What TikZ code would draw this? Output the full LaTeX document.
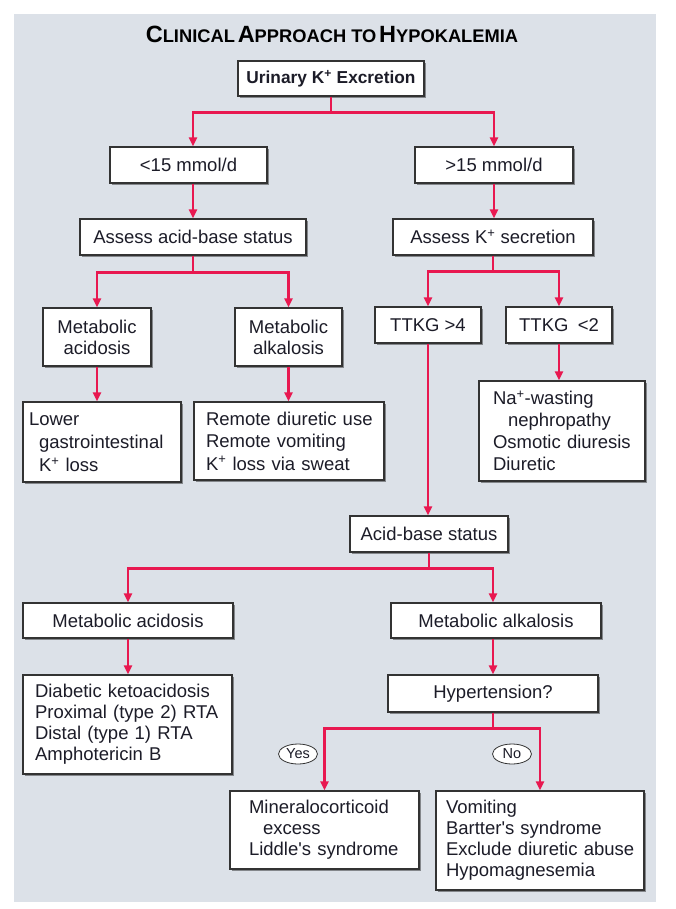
\documentclass[tikz,border=0pt]{standalone}
\usepackage{fontspec}
\setmainfont{Liberation Sans}
\newfontfamily\plainsans{Liberation Sans}
\usetikzlibrary{arrows.meta,shadows,shapes.geometric}
\definecolor{bgc}{RGB}{220,225,232}
\definecolor{arrc}{RGB}{232,24,80}
\definecolor{txt}{RGB}{28,28,40}
\newcommand\BigC[1]{{\fontsize{23.5}{25}\selectfont #1}}
\newcommand\SmC[1]{{\fontsize{18.3}{25}\selectfont #1}}
\newcommand\lline[1]{\mbox{#1}}
\newcommand\Kp{K\textsuperscript{+}}
\newcommand\apos{{\plainsans'}}
\begin{document}
\begin{tikzpicture}[x=1pt,y=-1pt,
  box/.style={draw=black!80, line width=1.1pt, fill=white, inner sep=0pt,
    drop shadow={shadow xshift=2.2pt, shadow yshift=-2.2pt, fill=black, opacity=0.4},
    font=\fontsize{18.5}{21}\selectfont, text=txt, align=center},
  lbox/.style={box, align=left},
  arr/.style={draw=arrc, line width=2.3pt, -{Triangle[length=9pt,width=8pt]}},
  tag/.style={ellipse, draw=black!80, line width=0.8pt, fill=white, inner sep=0pt,
    minimum width=39pt, minimum height=20pt, font=\fontsize{14.5}{14}\selectfont, text=txt}]
\useasboundingbox (0,0) rectangle (675,909);
\fill[bgc] (14,14) rectangle (656,902);

\node[anchor=base, font=\bfseries, text=black] (title) at (332,43)
  {\BigC{C}\SmC{LINICAL} \BigC{A}\SmC{PPROACH TO} \BigC{H}\SmC{YPOKALEMIA}};

\node[box, minimum width=186pt, minimum height=35pt, font=\bfseries\fontsize{17.3}{20}\selectfont] (urin) at (331,78.5) {Urinary \Kp{} Excretion};
\node[box, minimum width=157pt, minimum height=36pt] (lt) at (188.5,165) {<15 mmol/d};
\node[box, minimum width=158pt, minimum height=36pt] (gt) at (494,165) {>15 mmol/d};
\node[box, minimum width=226pt, minimum height=36pt] (aab) at (193,237) {Assess acid-base status};
\node[box, minimum width=200pt, minimum height=36pt] (ak) at (493,237) {Assess \Kp{} secretion};
\node[box, minimum width=108pt, minimum height=58pt] (ma) at (97,337) {Metabolic\\acidosis};
\node[box, minimum width=107pt, minimum height=58pt] (mal) at (288.5,337) {Metabolic\\alkalosis};
\node[box, minimum width=106pt, minimum height=36pt] (t4) at (428,325) {TTKG >4};
\node[box, minimum width=106pt, minimum height=36pt] (t2) at (559,325) {TTKG\enspace<2};

\node[lbox, minimum width=158pt, minimum height=80pt, text width=146pt, inner xsep=6pt,
  font=\fontsize{18.5}{23}\selectfont] (lower) at (102,442)
  {\lline{Lower}\\\lline{\hspace*{10pt}gastrointestinal}\\\lline{\hspace*{10pt}\Kp{} loss}};
\node[lbox, minimum width=190pt, minimum height=78pt, text width=166pt, inner xsep=12pt,
  font=\fontsize{18.5}{22.5}\selectfont] (remote) at (289,441)
  {\lline{Remote diuretic use}\\\lline{Remote vomiting}\\\lline{\Kp{}\ loss via sweat}};
\node[lbox, minimum width=166pt, minimum height=100pt, text width=138pt, inner xsep=14pt,
  font=\fontsize{18.5}{22}\selectfont] (na) at (562,431)
  {\lline{Na\textsuperscript{+}-wasting}\\\lline{\hspace*{15pt}nephropathy}\\\lline{Osmotic diuresis}\\\lline{Diuretic}};

\node[box, minimum width=158pt, minimum height=36pt] (ab) at (429,534) {Acid-base status};
\node[box, minimum width=210pt, minimum height=35pt] (mac) at (128,620.5) {Metabolic acidosis};
\node[box, minimum width=210pt, minimum height=35pt] (mak) at (496,620.5) {Metabolic alkalosis};
\node[lbox, minimum width=209pt, minimum height=99pt, text width=185pt, inner xsep=12pt] (dka) at (127.5,724.5)
  {\lline{Diabetic ketoacidosis}\\\lline{Proximal (type 2) RTA}\\\lline{Distal (type 1) RTA}\\\lline{Amphotericin B}};
\node[box, minimum width=210pt, minimum height=37pt] (htn) at (493,693.5) {Hypertension?};
\node[lbox, minimum width=189pt, minimum height=78pt, text width=151pt, inner xsep=19pt] (min) at (324.5,830)
  {\lline{Mineralocorticoid}\\\lline{\hspace*{14pt}excess}\\\lline{Liddle\apos s syndrome}};
\node[lbox, minimum width=208pt, minimum height=99pt, text width=188pt, inner xsep=10pt] (vom) at (540,840.5)
  {\lline{Vomiting}\\\lline{Bartter\apos s syndrome}\\\lline{Exclude diuretic abuse}\\\lline{Hypomagnesemia}};

\node[tag] (yes) at (298,754) {Yes};
\node[tag] (no) at (512,754) {No};

% connectors
\draw[arr] (urin.south) -- ++(0,16) -| (lt.north -| aab.north);
\draw[arr] (urin.south) -- ++(0,16) -| (gt.north);
\draw[arr] (lt.south -| aab.north) -- (aab.north);
\draw[arr] (gt.south) -- (gt.south |- ak.north);
\draw[arr] (aab.south) -- ++(0,17) -| (ma.north);
\draw[arr] (aab.south) -- ++(0,17) -| (mal.north);
\draw[arr] (ak.south) -- ++(0,16) -| (t4.north);
\draw[arr] (ak.south) -- ++(0,16) -| (t2.north);
\draw[arr] (ma.south) -- (ma.south |- lower.north);
\draw[arr] (mal.south) -- (mal.south |- remote.north);
\draw[arr] (t2.south) -- (t2.south |- na.north);
\draw[arr] (t4.south) -- (t4.south |- ab.north);
\draw[arr] (ab.south) -- ++(0,16) -| (mac.north);
\draw[arr] (ab.south) -- ++(0,16) -| (mak.north -| htn.north);
\draw[arr] (mac.south) -- (mac.south |- dka.north);
\draw[arr] (mak.south -| htn.north) -- (htn.north);
\draw[arr] (htn.south) -- ++(0,16) -| (min.north);
\draw[arr] (htn.south) -- ++(0,16) -| (vom.north);
\end{tikzpicture}
\end{document}
